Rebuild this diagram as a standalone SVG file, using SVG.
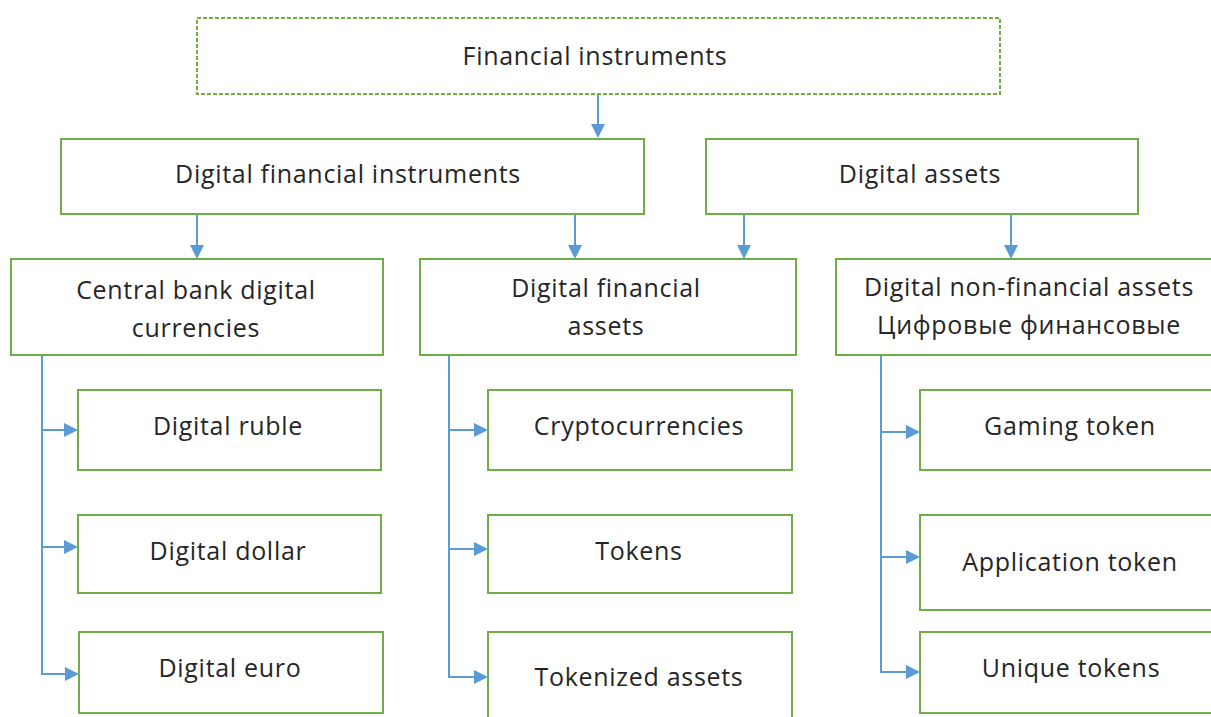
<svg xmlns="http://www.w3.org/2000/svg" width="1211" height="717" viewBox="0 0 1211 717">
<defs>
<style>
.box{fill:#fff;stroke:#70AD47;stroke-width:2}
.dash{stroke-dasharray:4 2}
.t{font-family:"Open Sans","Liberation Sans",Arial,sans-serif;font-size:25px;letter-spacing:0.7px;fill:#262626;text-anchor:middle}
.cl{fill:none;stroke:#5B9BD5;stroke-width:2}
.ah{fill:#5B9BD5}
</style>
</defs>
<rect width="1211" height="717" fill="#fff"/>
<g id="connectors">
<path class="cl" d="M598,94 V126"/><polygon class="ah" points="591,124 605,124 598,138"/>
<path class="cl" d="M197,214 V247"/><polygon class="ah" points="190,245 204,245 197,259"/>
<path class="cl" d="M575,214 V247"/><polygon class="ah" points="568,245 582,245 575,259"/>
<path class="cl" d="M744,214 V247"/><polygon class="ah" points="737,245 751,245 744,259"/>
<path class="cl" d="M1011,214 V247"/><polygon class="ah" points="1004,245 1018,245 1011,259"/>
<path class="cl" d="M42,355 V674 H66"/>
<path class="cl" d="M42,430 H66"/><path class="cl" d="M42,547 H66"/>
<polygon class="ah" points="64,423 78,430 64,437"/>
<polygon class="ah" points="64,540 78,547 64,554"/>
<polygon class="ah" points="65,667 79,674 65,681"/>
<path class="cl" d="M449,355 V677 H476"/>
<path class="cl" d="M449,430 H476"/><path class="cl" d="M449,549 H476"/>
<polygon class="ah" points="474,423 488,430 474,437"/>
<polygon class="ah" points="474,542 488,549 474,556"/>
<polygon class="ah" points="474,670 488,677 474,684"/>
<path class="cl" d="M881,355 V672 H908"/>
<path class="cl" d="M881,432 H908"/><path class="cl" d="M881,557 H908"/>
<polygon class="ah" points="906,425 920,432 906,439"/>
<polygon class="ah" points="906,550 920,557 906,564"/>
<polygon class="ah" points="906,665 920,672 906,679"/>
</g>
<g id="n-fin"><rect class="box dash" x="197" y="18" width="803" height="76"/><text class="t" x="595" y="65">Financial instruments</text></g>
<g id="n-dfi"><rect class="box" x="61" y="139" width="583" height="75"/><text class="t" x="348" y="183">Digital financial instruments</text></g>
<g id="n-da"><rect class="box" x="706" y="139" width="432" height="75"/><text class="t" x="920" y="183">Digital assets</text></g>
<g id="n-cbdc"><rect class="box" x="11" y="259" width="372" height="96"/><text class="t" x="196" y="299">Central bank digital</text><text class="t" x="196" y="337">currencies</text></g>
<g id="n-dfa"><rect class="box" x="420" y="259" width="376" height="96"/><text class="t" x="606" y="297">Digital financial</text><text class="t" x="606" y="335">assets</text></g>
<g id="n-dnfa"><rect class="box" x="836" y="259" width="380" height="96"/><text class="t" x="1029" y="296">Digital non-financial assets</text><text class="t" x="1029" y="334">Цифровые финансовые</text></g>
<g id="n-ruble"><rect class="box" x="78" y="390" width="303" height="80"/><text class="t" x="228" y="435">Digital ruble</text></g>
<g id="n-dollar"><rect class="box" x="78" y="515" width="303" height="78"/><text class="t" x="228" y="560">Digital dollar</text></g>
<g id="n-euro"><rect class="box" x="79" y="632" width="304" height="81"/><text class="t" x="230" y="677">Digital euro</text></g>
<g id="n-crypto"><rect class="box" x="488" y="390" width="304" height="80"/><text class="t" x="639" y="435">Cryptocurrencies</text></g>
<g id="n-tokens"><rect class="box" x="488" y="515" width="304" height="78"/><text class="t" x="639" y="560">Tokens</text></g>
<g id="n-tokenized"><rect class="box" x="488" y="632" width="304" height="100"/><text class="t" x="639" y="686">Tokenized assets</text></g>
<g id="n-gaming"><rect class="box" x="920" y="390" width="300" height="80"/><text class="t" x="1070" y="435">Gaming token</text></g>
<g id="n-app"><rect class="box" x="920" y="515" width="300" height="95"/><text class="t" x="1070" y="571">Application token</text></g>
<g id="n-unique"><rect class="box" x="920" y="632" width="300" height="81"/><text class="t" x="1071" y="677">Unique tokens</text></g>
</svg>
